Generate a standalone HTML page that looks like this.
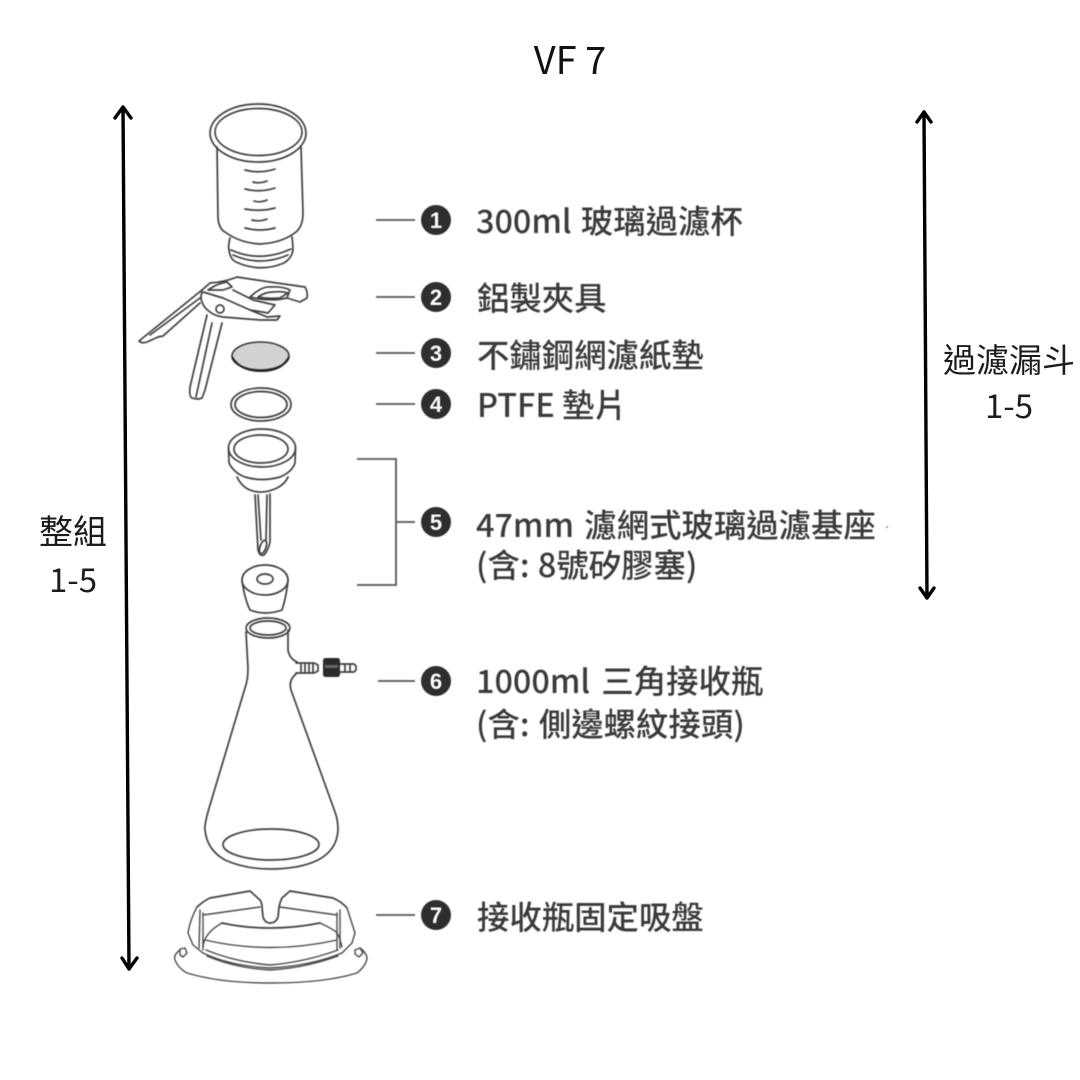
<!DOCTYPE html>
<html><head><meta charset="utf-8"><style>
html,body{margin:0;padding:0;background:#fff}
svg{display:block}
text{font-family:"Noto Sans CJK TC","Liberation Sans",sans-serif}
.lab{font-size:32.4px;fill:#3a3a3a;font-weight:500}
.big{fill:#1c1c1c;font-weight:400}
.num{font-size:22px;fill:#fff;font-weight:700;font-family:"Liberation Sans",sans-serif;text-anchor:middle}
.d{fill:none;stroke:#3f3f3f;stroke-width:1.7;stroke-linecap:round;stroke-linejoin:round}
.t{stroke:#4a4a4a;stroke-width:1.4}
.ld{fill:none;stroke:#555;stroke-width:1.8}
.ar{fill:none;stroke:#000;stroke-width:3.4;stroke-linecap:round;stroke-linejoin:round}
.soft{filter:blur(.45px)}
</style></head><body>
<svg width="1080" height="1080" viewBox="0 0 1080 1080" xmlns="http://www.w3.org/2000/svg">
<rect width="1080" height="1080" fill="#fff"/>
<text x="570" y="74" text-anchor="middle" style="font-size:38px;fill:#111">VF 7</text>

<!-- arrows -->
<path class="ar" d="M123 107L129 969M115 118L123 107L131 118M122 958L129 969L137 958"/>
<path class="ar" d="M924 112L927 598M917 122L924 112L931 122M920 588L927 598L934 588"/>
<text x="73" y="544" text-anchor="middle" class="big" style="font-size:34px">整組</text>
<text x="73" y="592" text-anchor="middle" class="big" style="font-size:33px">1-5</text>
<text x="1009" y="372" text-anchor="middle" class="big" style="font-size:33px">過濾漏斗</text>
<text x="1009" y="418" text-anchor="middle" class="big" style="font-size:33px">1-5</text>

<g class="soft">
<!-- cup -->
<g class="d">
<ellipse cx="258" cy="133" rx="48" ry="29"/>
<ellipse cx="258.5" cy="132" rx="43.5" ry="23.5"/>
<path d="M217 147L218 218Q219 229 225 232Q240 243 260 244Q282 243 296 232Q303 226 303 213L301 147"/>
<path d="M230 238Q228 246 229 250Q230 259 236 262Q260 273 284 263Q292 258 293 250Q293 244 292 237"/>
<path d="M231 250Q260 263 291 249M233 255Q260 267 288 255"/>
<path d="M245 170Q260 174 275 169M253 182Q260 184 267 181M245 189Q260 193 275 188M254 201Q260 203 267 200M245 209Q260 212 275 208M252 220Q260 222 267 219M245 228Q260 232 275 228"/>
</g>
<!-- clamp -->
<g class="d">
<path d="M202 290L139 341Q142 344 147 342L158 337L163 336L200 303M150 335L200 298"/>
<path d="M202 290L210 283Q225 282 237 277L270 282L305 287Q308 292 307 298L300 302L287 298"/>
<path d="M208 290Q218 283 227 282L232 287L223 290Z"/>
<path d="M250 297Q262 286 270 287Q282 286 290 290L287 298Q270 302 250 297ZM258 297Q265 292 273 292Q282 291 288 293L280 298Q268 299 258 297Z"/>
<path d="M202 292Q200 298 202 302Q204 308 210 312Q215 316 223 317L260 320L277 320L280 316L267 317L250 310L223 298L203 292"/>
<path d="M250 310L268 313L275 305L253 300L233 290"/>
<circle cx="220" cy="309" r="4"/>
<path d="M207 315L190 387Q189 397 192 398Q198 400 202 398L205 390L222 323M212 323L196 397"/>
</g>
<!-- filter -->
<ellipse cx="260.5" cy="356" rx="28.5" ry="14" fill="#d2d2d2" stroke="#3a3a3a" stroke-width="1.6"/>
<path d="M232 357Q240 371 261 371Q282 371 289 357" fill="none" stroke="#222" stroke-width="2"/>
<!-- gasket -->
<g class="d">
<ellipse cx="261" cy="404.5" rx="30" ry="16.5"/>
<ellipse cx="261" cy="404.5" rx="26" ry="13"/>
<!-- funnel -->
<ellipse cx="262" cy="448" rx="33.5" ry="19"/>
<ellipse cx="261" cy="449" rx="27" ry="14"/>
<path d="M228.500 448L229 463Q234 473 245 477Q262 482 280 477Q292 472 295 463L295.500 448"/>
<path d="M237 477Q242 487 250 490Q262 495 277 488Q285 484 288 477"/>
<path d="M255 495L258 550Q260 557 264 555Q268 551 270 542L270 494M258 495L261 540M267 495L266 540"/>
<ellipse cx="263" cy="547" rx="3" ry="7" transform="rotate(18 263 547)"/>
<!-- stopper -->
<ellipse cx="265" cy="580" rx="23" ry="15"/>
<ellipse cx="265" cy="579" rx="8" ry="5"/>
<path d="M242 581Q245 600 250 610Q265 616 282 610Q286 598 288 581"/>
<!-- flask -->
<ellipse cx="268" cy="628" rx="22" ry="10"/>
<ellipse cx="268" cy="628" rx="18" ry="7"/>
<path d="M246 632L248 668Q248 680 245 688L210 805Q204 825 205 830Q207 850 225 860Q245 869 270 869Q300 869 318 860Q337 850 338 830Q338 820 335 812L291 690Q288 680 297 673"/>
<path d="M288 630L288 650Q289 658 297 662"/>
<ellipse cx="271" cy="844.500" rx="48" ry="15.500"/>
<!-- connector -->
<path d="M296 663H314L318 665V671L314 673H296M301 663v10M305 663v10M309 663v10M313 663v10"/>
<path d="M340 664H354L356 666V670L354 672H340M345 664v8M350 664v8"/>
</g>
<rect x="323" y="658" width="17" height="19" rx="2.500" fill="#2a2a2a"/>
<rect x="325" y="665" width="13" height="3" fill="#666"/>
<!-- base -->
<g class="d">
<path d="M197 907Q205 900 210 898L250 891L260 900Q262 903 262 907L263 917Q265 923 270 923Q276 923 278 917L279 907Q280 902 282 898L290 891L333 898Q342 902 347 908"/>
<path class="t" d="M203 915L260 907M280 907L337 915"/>
<path d="M222 923Q245 928 270 928Q295 928 320 923"/>
<path class="t" d="M203 947Q204 933 222 923M320 923Q335 930 337 933Q340 938 342 947"/>
<path class="t" d="M205 940Q270 955 337 940"/>
<path class="t" d="M197 907Q190 920 188 933L193 945L203 953M347 908L355 933L352 943L342 953M200 910L199 948M203 913L203 950M340 910L340 948M337 913L337 950"/>
<path class="t" d="M203 953Q230 966 270 968Q310 966 342 953M206 950Q235 962 270 965Q305 962 338 950M207 956Q235 968 270 970Q305 968 338 956"/>
<path class="t" d="M180 950Q173 955 175 960Q178 968 187 973Q220 983 270 983Q325 983 357 973Q366 966 367 958Q366 952 360 948"/>
<path class="t" d="M180 949L185 948L187 953L183 957L180 955ZM355 950L360 948L363 953L359 957L355 954Z"/>
</g>

<!-- leader lines -->
<path class="ld" d="M376 220H415M376 297H415M376 353H415M376 404H415M378 681H415M376 915H415"/>
<path class="ld" d="M357 459H396V585H357M396 522H415"/>

<!-- number circles -->
<g fill="#2e2e2e">
<circle cx="436" cy="220" r="15"/><circle cx="436" cy="297" r="15"/><circle cx="436" cy="353" r="15"/><circle cx="436" cy="404" r="15"/><circle cx="436" cy="522" r="15"/><circle cx="436" cy="681" r="15"/><circle cx="436" cy="915" r="15"/>
</g>
<text class="num" x="436" y="228">1</text><text class="num" x="436" y="305">2</text><text class="num" x="436" y="361">3</text><text class="num" x="436" y="412">4</text><text class="num" x="436" y="530">5</text><text class="num" x="436" y="689">6</text><text class="num" x="436" y="923">7</text>

<!-- labels -->
<text class="lab" x="476" y="233" style="word-spacing:2px">300ml 玻璃過濾杯</text>
<text class="lab" x="477" y="310">鋁製夾具</text>
<text class="lab" x="477" y="367">不鏽鋼網濾紙墊</text>
<text class="lab" x="477" y="417">PTFE 墊片</text>
<text class="lab" x="476" y="537" style="word-spacing:3px">47mm 濾網式玻璃過濾基座</text>
<text class="lab" x="476" y="577" style="word-spacing:1px">(含: 8號矽膠塞)</text>
<text class="lab" x="476" y="693" style="word-spacing:4px">1000ml 三角接收瓶</text>
<text class="lab" x="476" y="736" style="word-spacing:2px">(含: 側邊螺紋接頭)</text>
<text class="lab" x="477" y="929">接收瓶固定吸盤</text>
<circle cx="887" cy="527" r="1" fill="#888"/>
</g>
</svg>
</body></html>
